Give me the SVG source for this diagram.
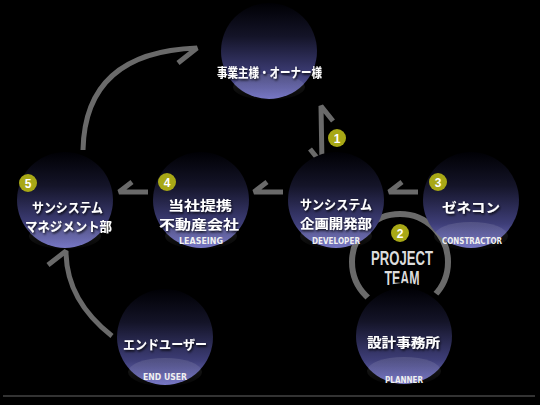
<svg xmlns="http://www.w3.org/2000/svg" width="540" height="405" viewBox="0 0 540 405">
  <defs>
    <linearGradient id="ball" x1="0" y1="0" x2="0" y2="1">
      <stop offset="0" stop-color="#000004"/>
      <stop offset="0.35" stop-color="#141428"/>
      <stop offset="0.75" stop-color="#3e3e78"/>
      <stop offset="1" stop-color="#7474c4"/>
    </linearGradient>
    <linearGradient id="shine" x1="0" y1="0" x2="0" y2="1">
      <stop offset="0" stop-color="#ffffff" stop-opacity="0.12"/>
      <stop offset="1" stop-color="#ffffff" stop-opacity="0.02"/>
    </linearGradient>
    <filter id="sh" x="-10%" y="-30%" width="120%" height="160%">
      <feDropShadow dx="1" dy="1.5" stdDeviation="0.8" flood-color="#000" flood-opacity="0.9"/>
    </filter>
  </defs>
  <style>
    .ball { fill: url(#ball); }
    .shine { fill: url(#shine); }
    .jp { font-family: "Noto Sans CJK JP", "Noto Sans", sans-serif; font-weight: bold; font-size: 13px; fill: #ffffff; text-anchor: middle; filter: url(#sh); }
    .en { font-family: "DejaVu Sans", "Liberation Sans", sans-serif; font-weight: bold; font-size: 9.5px; fill: #f0f0f0; text-anchor: middle; }
    .pt { font-family: "Liberation Sans", "DejaVu Sans", sans-serif; font-weight: bold; font-size: 20px; fill: #dcdcdc; text-anchor: middle; }
    .arr { fill: none; stroke: #6a6a6a; stroke-width: 5; stroke-linejoin: bevel; stroke-linecap: butt; }
    .badge circle { fill: #a8a816; }
    .badge text { font-family: "Liberation Sans", "DejaVu Sans", sans-serif; font-weight: bold; font-size: 12px; fill: #ffffff; text-anchor: middle; }
  </style>
  <rect width="540" height="405" fill="#000"/>

  <!-- project team ring -->
  <g id="project-team">
    <circle cx="400" cy="262" r="48" fill="none" stroke="#6a6a6a" stroke-width="6"/>
    <text class="pt" x="402" y="265" textLength="62" lengthAdjust="spacingAndGlyphs">PROJECT</text>
    <text class="pt" x="402" y="285" textLength="35" lengthAdjust="spacingAndGlyphs">TEAM</text>
  </g>

  <g id="connectors">
    <path class="arr" d="M83,150 Q85,52 197,48 L178,63"/>
    <path class="arr" d="M333,121 L321,106 L322,164 L310,149"/>
    <path class="arr" d="M418,192 L389,192 L402,182"/>
    <path class="arr" d="M283,192 L254,192 L267,182"/>
    <path class="arr" d="M148,192 L119,192 L132,182"/>
    <path class="arr" d="M112,336 Q66,300 66,251 L48,265"/>
  </g>

  <g id="owner">
    <circle class="ball" cx="269" cy="51" r="48"/>
    <ellipse class="shine" cx="269" cy="87" rx="36" ry="13"/>
    <text class="jp" x="269.5" y="77" textLength="105" lengthAdjust="spacingAndGlyphs">事業主様・オーナー様</text>
  </g>

  <g id="developer">
    <circle class="ball" cx="336" cy="200" r="48"/>
    <ellipse class="shine" cx="336" cy="236" rx="36" ry="13"/>
    <text class="jp" x="336" y="208.5" textLength="72" lengthAdjust="spacingAndGlyphs">サンシステム</text>
    <text class="jp" x="336" y="227.5" textLength="72" lengthAdjust="spacingAndGlyphs">企画開発部</text>
    <text class="en" x="336" y="243.5" textLength="48" lengthAdjust="spacingAndGlyphs">DEVELOPER</text>
  </g>

  <g id="constructor">
    <circle class="ball" cx="471" cy="200" r="48"/>
    <ellipse class="shine" cx="471" cy="236" rx="37" ry="14"/>
    <text class="jp" x="471" y="212" textLength="58" lengthAdjust="spacingAndGlyphs">ゼネコン</text>
    <text class="en" x="472" y="244" textLength="60" lengthAdjust="spacingAndGlyphs">CONSTRACTOR</text>
  </g>

  <g id="leasing">
    <circle class="ball" cx="201" cy="200" r="48"/>
    <ellipse class="shine" cx="201" cy="236" rx="36" ry="13"/>
    <text class="jp" x="200" y="210" textLength="64" lengthAdjust="spacingAndGlyphs">当社提携</text>
    <text class="jp" x="199" y="229" textLength="80" lengthAdjust="spacingAndGlyphs">不動産会社</text>
    <text class="en" x="201" y="243.5" textLength="44" lengthAdjust="spacingAndGlyphs">LEASEING</text>
  </g>

  <g id="management">
    <circle class="ball" cx="65" cy="200" r="48"/>
    <ellipse class="shine" cx="65" cy="236" rx="36" ry="13"/>
    <text class="jp" x="67.5" y="212" textLength="71" lengthAdjust="spacingAndGlyphs">サンシステム</text>
    <text class="jp" x="68.5" y="231" textLength="87" lengthAdjust="spacingAndGlyphs">マネジメント部</text>
  </g>

  <g id="end-user">
    <circle class="ball" cx="165" cy="337" r="48"/>
    <ellipse class="shine" cx="165" cy="372" rx="37" ry="14"/>
    <text class="jp" x="165" y="349" textLength="84" lengthAdjust="spacingAndGlyphs">エンドユーザー</text>
    <text class="en" x="165" y="380" textLength="44" lengthAdjust="spacingAndGlyphs">END USER</text>
  </g>

  <g id="planner">
    <circle cx="404" cy="336" r="53" fill="#000"/>
    <circle class="ball" cx="404" cy="336" r="48"/>
    <ellipse class="shine" cx="404" cy="371" rx="37" ry="14"/>
    <text class="jp" x="403.5" y="347" textLength="73" lengthAdjust="spacingAndGlyphs">設計事務所</text>
    <text class="en" x="404" y="383" textLength="38" lengthAdjust="spacingAndGlyphs">PLANNER</text>
  </g>

  <g id="badges">
    <g class="badge"><circle cx="337" cy="138" r="9"/><text x="337" y="142.5">1</text></g>
    <g class="badge"><circle cx="400" cy="233" r="9"/><text x="400" y="237.5">2</text></g>
    <g class="badge"><circle cx="438" cy="182" r="9"/><text x="438" y="186.5">3</text></g>
    <g class="badge"><circle cx="167" cy="182" r="9"/><text x="167" y="186.5">4</text></g>
    <g class="badge"><circle cx="28" cy="183" r="9"/><text x="28" y="187.5">5</text></g>
  </g>

  <line x1="3" y1="396" x2="535" y2="396" stroke="#666" stroke-width="1"/>
</svg>
